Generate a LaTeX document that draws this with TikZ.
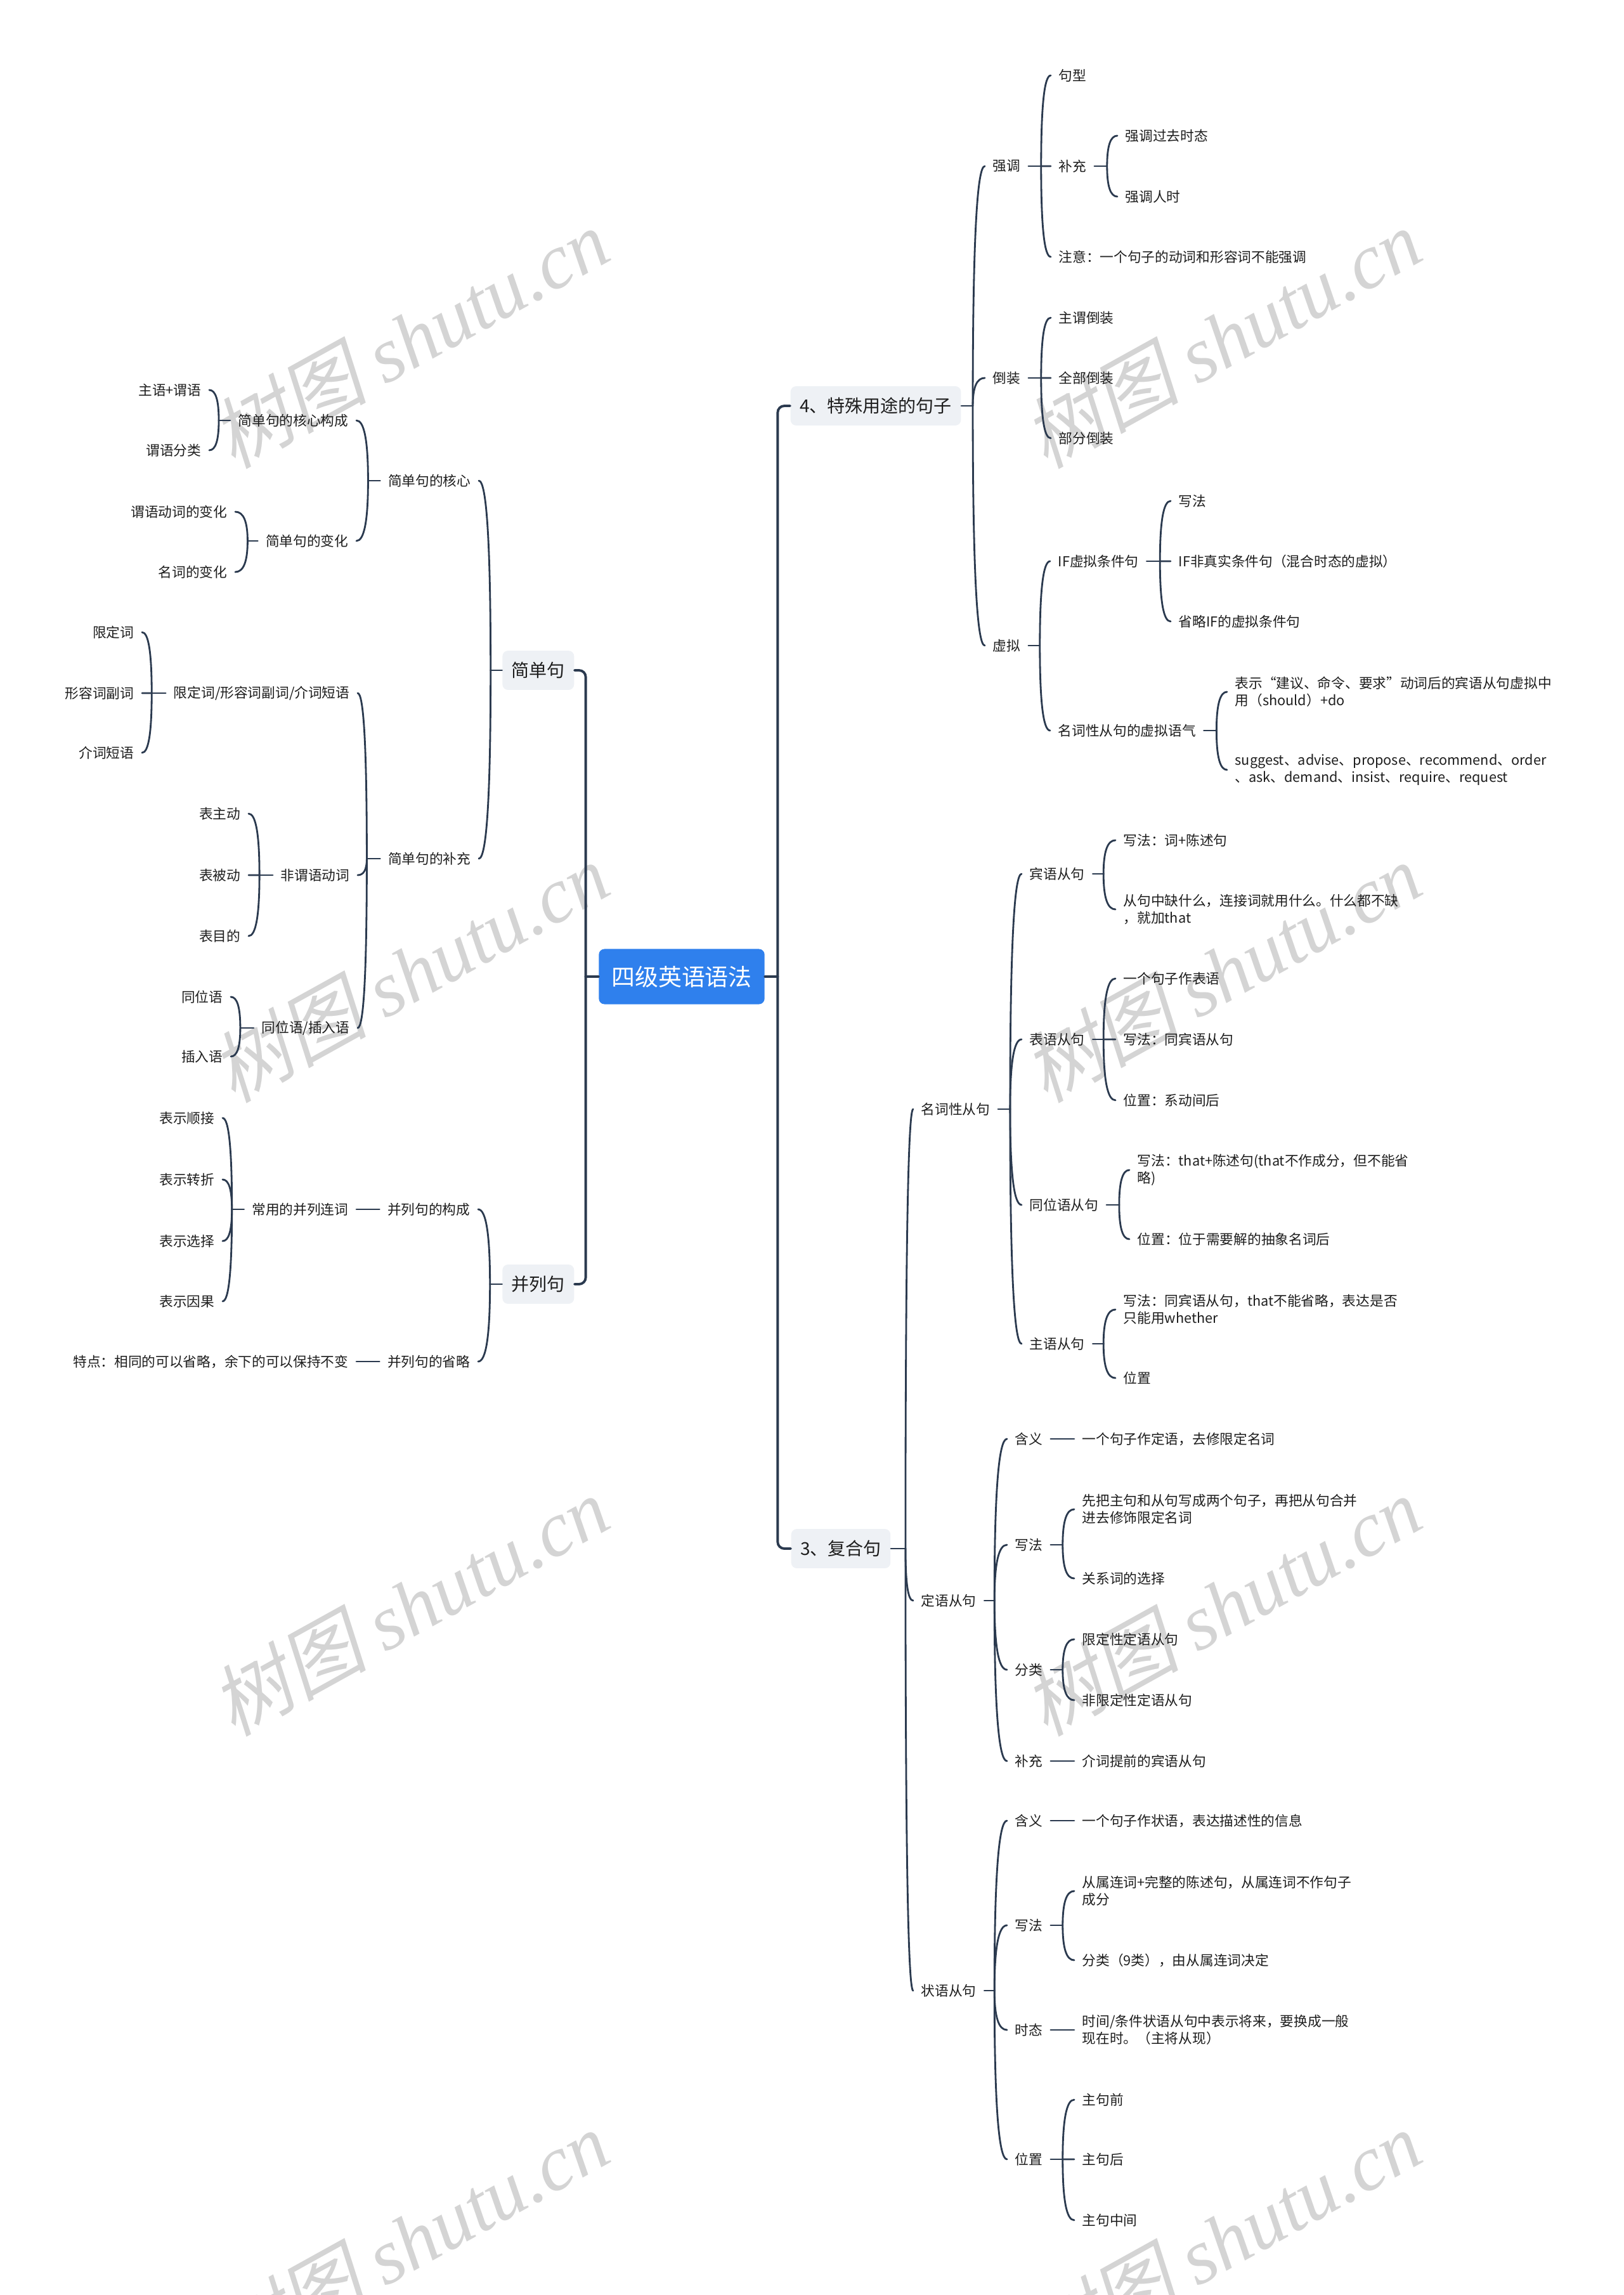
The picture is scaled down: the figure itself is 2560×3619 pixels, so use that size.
\documentclass[tikz,border=0pt]{standalone}
\usepackage{fontspec}
\setmainfont{Noto Sans CJK SC}
\newfontfamily\wmlat{Liberation Serif}
\newfontfamily\wmcjk[FakeSlant=0.2]{Noto Sans CJK SC}
\usetikzlibrary{calc}
\definecolor{lineC}{HTML}{2B3A4F}
\definecolor{rootC}{HTML}{2F80ED}
\definecolor{boxC}{HTML}{EEF1F5}
\definecolor{txtC}{HTML}{1E1E1E}
\definecolor{wmC}{HTML}{D4D4D4}

\newcommand\grpR[3]{%
  \coordinate (#1-v) at ($(#1.east)+(#2,0)$);
  \draw[conn] (#1.east) -- (#1-v);
  \foreach \ch in {#3}{%
    \coordinate (#1-k) at (#1-v |- \ch.west);
    \draw[conn] (#1-v) .. controls ($(#1-v)!0.667!(#1-k)$) and ($(\ch.west)!0.667!(#1-k)$) .. (\ch.west);}%
}
\newcommand\grpL[3]{%
  \coordinate (#1-v) at ($(#1.west)+(-#2,0)$);
  \draw[conn] (#1.west) -- (#1-v);
  \foreach \ch in {#3}{%
    \coordinate (#1-k) at (#1-v |- \ch.east);
    \draw[conn] (#1-v) .. controls ($(#1-v)!0.667!(#1-k)$) and ($(\ch.east)!0.667!(#1-k)$) .. (\ch.east);}%
}

\begin{document}
\begin{tikzpicture}[x=0.01cm,y=-0.01cm,
  conn/.style={draw=lineC,line width=0.8pt,line cap=round},
  mainconn/.style={draw=lineC,line width=1.1pt,line cap=round,rounded corners=3pt},
  leaf/.style={inner xsep=3.41pt,inner ysep=1.2pt,font=\fontsize{6.17pt}{7.7pt}\selectfont,text=txtC},
  leafR/.style={leaf,anchor=west,align=left},
  leafL/.style={leaf,anchor=east,align=right},
  lone/.style={fill=boxC,rounded corners=2.5pt,inner xsep=4.1pt,inner ysep=0pt,minimum height=17.6pt,font=\fontsize{7.97pt}{9.6pt}\selectfont,text=txtC},
  rootbox/.style={fill=rootC,rounded corners=2.5pt,minimum width=74.3pt,minimum height=24.75pt,inner sep=0pt,font=\fontsize{10.5pt}{12pt}\selectfont,text=white},
  wm/.style={rotate=29,text=wmC,inner sep=0pt,font=\fontsize{35pt}{40pt}\selectfont}]

\fill[white] (0,0) rectangle (2560,3619);
\useasboundingbox (0,0) rectangle (2560,3619);

% watermarks
\foreach \wx in {646,1927}{
  \foreach \wy in {533,1533,2532,3532}{
    \node[wm] (wm-\wx-\wy) at (\wx,\wy) {{\wmcjk 树图} {\wmlat\itshape shutu.cn}};
  }
}

% root and level 1
\node[rootbox] (root) at (1075,1540) {四级英语语法};
\node[lone,anchor=east] (jd) at (906,1057) {简单句};
\node[lone,anchor=east] (bl) at (906,2025) {并列句};
\node[lone,anchor=west] (s4) at (1246,640) {4、特殊用途的句子};
\node[lone,anchor=west] (s3) at (1247,2442) {3、复合句};

\coordinate (lv) at ($(root.west)+(-20,0)$);
\coordinate (rv) at ($(root.east)+(20,0)$);
\draw[mainconn] (root.west) -- (lv);
\draw[mainconn] (lv) |- (jd.east);
\draw[mainconn] (lv) |- (bl.east);
\draw[mainconn] (root.east) -- (rv);
\draw[mainconn] (rv) |- (s4.west);
\draw[mainconn] (rv) |- (s3.west);

% ---------- 4、特殊用途的句子 ----------
\node[leafR] (qd) at (1553,262) {强调};
\node[leafR] (dz) at (1553,596) {倒装};
\node[leafR] (xn) at (1553,1018) {虚拟};
\grpR{s4}{18}{qd,dz,xn}

\node[leafR] (jx) at (1657,119) {句型};
\node[leafR] (bc) at (1657,262) {补充};
\node[leafR] (zy) at (1657,405) {注意：一个句子的动词和形容词不能强调};
\grpR{qd}{20}{jx,bc,zy}
\node[leafR] (qg) at (1762,214) {强调过去时态};
\node[leafR] (qr) at (1762,310) {强调人时};
\grpR{bc}{20}{qg,qr}

\node[leafR] (zw) at (1657,501) {主谓倒装};
\node[leafR] (qb) at (1657,596) {全部倒装};
\node[leafR] (bf) at (1657,691) {部分倒装};
\grpR{dz}{20}{zw,qb,bf}

\node[leafR] (ifx) at (1656,885) {IF虚拟条件句};
\node[leafR] (mx) at (1656,1152) {名词性从句的虚拟语气};
\grpR{xn}{18}{ifx,mx}
\node[leafR] (xf) at (1846,790) {写法};
\node[leafR] (ifn) at (1846,885) {IF非真实条件句（混合时态的虚拟）};
\node[leafR] (sl) at (1846,980) {省略IF的虚拟条件句};
\grpR{ifx}{21}{xf,ifn,sl}
\node[leafR] (ms1) at (1935,1091) {表示“建议、命令、要求”动词后的宾语从句虚拟中\\用（should）+do};
\node[leafR] (ms2) at (1935,1214) {suggest、advise、propose、recommend、order\\、ask、demand、insist、require、request};
\grpR{mx}{20}{ms1,ms2}

% ---------- 3、复合句 ----------
\node[leafR] (mc) at (1440,1749) {名词性从句};
\node[leafR] (dy) at (1440,2524) {定语从句};
\node[leafR] (zc) at (1440,3139) {状语从句};
\grpR{s3}{23}{mc,dy,zc}

\node[leafR] (by) at (1611,1378) {宾语从句};
\node[leafR] (bys) at (1611,1639) {表语从句};
\node[leafR] (twy) at (1611,1900) {同位语从句};
\node[leafR] (zyu) at (1611,2119) {主语从句};
\grpR{mc}{19}{by,bys,twy,zyu}

\node[leafR] (by1) at (1759,1325) {写法：词+陈述句};
\node[leafR] (by2) at (1759,1434) {从句中缺什么，连接词就用什么。什么都不缺\\，就加that};
\grpR{by}{17}{by1,by2}
\node[leafR] (bs1) at (1759,1543) {一个句子作表语};
\node[leafR] (bs2) at (1759,1639) {写法：同宾语从句};
\node[leafR] (bs3) at (1759,1735) {位置：系动间后};
\grpR{bys}{17}{bs1,bs2,bs3}
\node[leafR] (tw1) at (1781,1845) {写法：that+陈述句(that不作成分，但不能省\\略)};
\node[leafR] (tw2) at (1781,1954) {位置：位于需要解的抽象名词后};
\grpR{twy}{20}{tw1,tw2}
\node[leafR] (zu1) at (1759,2065) {写法：同宾语从句，that不能省略，表达是否\\只能用whether};
\node[leafR] (zu2) at (1759,2173) {位置};
\grpR{zyu}{17}{zu1,zu2}

\node[leafR] (dh) at (1588,2269) {含义};
\node[leafR] (dx) at (1588,2436) {写法};
\node[leafR] (dfl) at (1588,2633) {分类};
\node[leafR] (dbc) at (1588,2777) {补充};
\grpR{dy}{16}{dh,dx,dfl,dbc}
\node[leafR] (dh1) at (1694,2269) {一个句子作定语，去修限定名词};
\draw[conn] (dh.east) -- (dh1.west);
\node[leafR] (dx1) at (1694,2380) {先把主句和从句写成两个句子，再把从句合并\\进去修饰限定名词};
\node[leafR] (dx2) at (1694,2489) {关系词的选择};
\grpR{dx}{19}{dx1,dx2}
\node[leafR] (df1) at (1694,2585) {限定性定语从句};
\node[leafR] (df2) at (1694,2681) {非限定性定语从句};
\grpR{dfl}{19}{df1,df2}
\node[leafR] (db1) at (1694,2777) {介词提前的宾语从句};
\draw[conn] (dbc.east) -- (db1.west);

\node[leafR] (zh) at (1588,2871) {含义};
\node[leafR] (zx) at (1588,3036) {写法};
\node[leafR] (zt) at (1588,3201) {时态};
\node[leafR] (zp) at (1588,3405) {位置};
\grpR{zc}{16}{zh,zx,zt,zp}
\node[leafR] (zh1) at (1694,2871) {一个句子作状语，表达描述性的信息};
\draw[conn] (zh.east) -- (zh1.west);
\node[leafR] (zx1) at (1694,2982) {从属连词+完整的陈述句，从属连词不作句子\\成分};
\node[leafR] (zx2) at (1694,3091) {分类（9类），由从属连词决定};
\grpR{zx}{19}{zx1,zx2}
\node[leafR] (zt1) at (1694,3201) {时间/条件状语从句中表示将来，要换成一般\\现在时。（主将从现）};
\draw[conn] (zt.east) -- (zt1.west);
\node[leafR] (zp1) at (1694,3311) {主句前};
\node[leafR] (zp2) at (1694,3405) {主句后};
\node[leafR] (zp3) at (1694,3501) {主句中间};
\grpR{zp}{19}{zp1,zp2,zp3}

% ---------- 简单句 ----------
\node[leafL] (jh) at (755,758) {简单句的核心};
\node[leafL] (jb) at (755,1354) {简单句的补充};
\grpL{jd}{18}{jh,jb}
\node[leafL] (jhg) at (562,663) {简单句的核心构成};
\node[leafL] (jbh) at (562,853) {简单句的变化};
\grpL{jh}{19}{jhg,jbh}
\node[leafL] (zwy) at (330,615) {主语+谓语};
\node[leafL] (wf) at (330,710) {谓语分类};
\grpL{jhg}{18}{zwy,wf}
\node[leafL] (wd) at (371,807) {谓语动词的变化};
\node[leafL] (mb) at (371,902) {名词的变化};
\grpL{jbh}{16}{wd,mb}

\node[leafL] (xd) at (564,1093) {限定词/形容词副词/介词短语};
\node[leafL] (fw) at (564,1380) {非谓语动词};
\node[leafL] (tc) at (564,1621) {同位语/插入语};
\grpL{jb}{21}{xd,fw,tc}
\node[leafL] (x1) at (224,997) {限定词};
\node[leafL] (x2) at (224,1093) {形容词副词};
\node[leafL] (x3) at (224,1187) {介词短语};
\grpL{xd}{22}{x1,x2,x3}
\node[leafL] (f1) at (392,1283) {表主动};
\node[leafL] (f2) at (392,1380) {表被动};
\node[leafL] (f3) at (392,1476) {表目的};
\grpL{fw}{21}{f1,f2,f3}
\node[leafL] (t1) at (364,1572) {同位语};
\node[leafL] (t2) at (364,1666) {插入语};
\grpL{tc}{21}{t1,t2}

% ---------- 并列句 ----------
\node[leafL] (bg) at (754,1907) {并列句的构成};
\node[leafL] (bsl) at (754,2147) {并列句的省略};
\grpL{bl}{19}{bg,bsl}
\node[leafL] (cy) at (562,1907) {常用的并列连词};
\draw[conn] (bg.west) -- (cy.east);
\node[leafL] (c1) at (351,1763) {表示顺接};
\node[leafL] (c2) at (351,1860) {表示转折};
\node[leafL] (c3) at (351,1957) {表示选择};
\node[leafL] (c4) at (351,2052) {表示因果};
\grpL{cy}{19}{c1,c2,c3,c4}
\node[leafL] (td) at (562,2147) {特点：相同的可以省略，余下的可以保持不变};
\draw[conn] (bsl.west) -- (td.east);

\end{tikzpicture}
\end{document}
